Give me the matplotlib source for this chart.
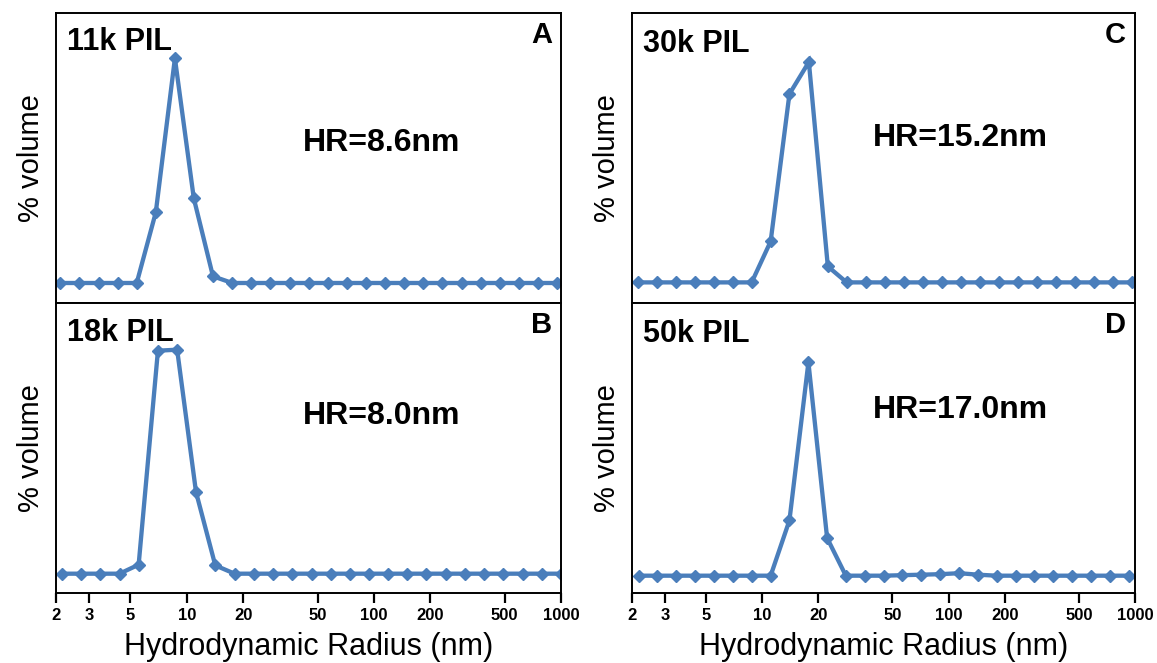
import matplotlib
matplotlib.use("Agg")
import matplotlib.pyplot as plt
from matplotlib.ticker import FixedLocator, FixedFormatter, NullLocator

plt.rcParams["font.family"] = ["Liberation Sans", "DejaVu Sans"]

# Size bins (nm) and volume distributions for each polymer
radius_a = [2.11, 2.67, 3.38, 4.27, 5.40, 6.83, 8.64, 10.9, 13.8, 17.5, 22.1, 28.0, 35.4,
            44.8, 56.7, 71.7, 90.7, 115, 145, 183, 232, 294, 372, 470, 595, 753, 952]
volume_a = [0, 0, 0, 0, 0, 7.07, 22.47, 8.47, 0.67, 0, 0, 0, 0,
            0, 0, 0, 0, 0, 0, 0, 0, 0, 0, 0, 0, 0, 0]

radius_b = [2.15, 2.72, 3.45, 4.37, 5.53, 7.01, 8.88, 11.2, 14.2, 18.0, 22.8, 28.9, 36.6,
            46.4, 58.7, 74.4, 94.2, 119, 151, 191, 242, 307, 389, 492, 624, 790, 1000]
volume_b = [0, 0, 0, 0, 0.9, 22.3, 22.4, 8.17, 0.83, 0, 0, 0, 0,
            0, 0, 0, 0, 0, 0, 0, 0, 0, 0, 0, 0, 0, 0]

radius_c = [2.15, 2.72, 3.44, 4.35, 5.49, 6.95, 8.78, 11.1, 14.0, 17.8, 22.5, 28.4, 35.9,
            45.4, 57.4, 72.6, 91.8, 116, 147, 186, 235, 297, 375, 475, 600, 759, 960]
volume_c = [0, 0, 0, 0, 0, 0, 0, 4.1, 18.84, 22.04, 1.6, 0, 0,
            0, 0, 0, 0, 0, 0, 0, 0, 0, 0, 0, 0, 0, 0]

radius_d = [2.17, 2.74, 3.46, 4.37, 5.51, 6.96, 8.78, 11.1, 14.0, 17.7, 22.3, 28.1, 35.5,
            44.8, 56.6, 71.4, 90.2, 114, 144, 181, 229, 289, 365, 461, 581, 734, 931]
volume_d = [0, 0, 0, 0, 0, 0, 0, 0, 5.53, 21.33, 3.77, 0, 0,
            0, 0.05, 0.1, 0.15, 0.25, 0.1, 0, 0, 0, 0, 0, 0, 0, 0]

sample_names = ["11k PIL", "18k PIL", "30k PIL", "50k PIL"]
panel_letters = ["A", "B", "C", "D"]
hr_labels = ["HR=8.6nm", "HR=8.0nm", "HR=15.2nm", "HR=17.0nm"]

tick_values = [2, 3, 5, 10, 20, 50, 100, 200, 500, 1000]
tick_labels = ["2", "3", "5", "10", "20", "50", "100", "200", "500", "1000"]

LINE_COLOR = "#4A7EBB"

fig = plt.figure(figsize=(11.57, 6.63), dpi=100)

# axes rectangles: [left, bottom, width, height]
rects = [
    [0.0484, 0.5430, 0.4365, 0.4374],
    [0.0484, 0.1056, 0.4365, 0.4374],
    [0.5462, 0.5430, 0.4347, 0.4374],
    [0.5462, 0.1056, 0.4347, 0.4374],
]
ylims = [(-2.0, 27.0), (-1.93, 27.07), (-2.06, 26.94), (-1.73, 27.27)]
name_y = [0.872, 0.870, 0.866, 0.866]
letter_y = [0.897, 0.897, 0.895, 0.895]
hr_pos = [(0.489, 0.525), (0.489, 0.583), (0.479, 0.540), (0.479, 0.603)]

series = [(radius_a, volume_a), (radius_b, volume_b),
          (radius_c, volume_c), (radius_d, volume_d)]

for i, (rx, vol) in enumerate(series):
    ax = fig.add_axes(rects[i])
    ax.plot(rx, vol, color=LINE_COLOR, lw=3.1, marker="D", ms=6.5,
            mfc=LINE_COLOR, mec=LINE_COLOR, solid_joinstyle="miter")
    ax.set_xscale("log")
    ax.set_xlim(2, 1000)
    ax.set_ylim(*ylims[i])
    ax.yaxis.set_major_locator(NullLocator())
    ax.yaxis.set_minor_locator(NullLocator())
    ax.xaxis.set_minor_locator(NullLocator())
    for sp in ax.spines.values():
        sp.set_linewidth(1.4)
        sp.set_color("black")
    ax.set_ylabel("% volume", fontsize=21, labelpad=8)

    if i in (1, 3):
        ax.xaxis.set_major_locator(FixedLocator(tick_values))
        ax.xaxis.set_major_formatter(FixedFormatter(tick_labels))
        ax.tick_params(axis="x", direction="out", length=7, width=1.6,
                       labelsize=12, pad=4)
        for lab in ax.get_xticklabels():
            lab.set_fontweight("bold")
        ax.set_xlabel("Hydrodynamic Radius (nm)", fontsize=22, labelpad=6)
    else:
        ax.xaxis.set_major_locator(NullLocator())

    ax.text(0.022, name_y[i], sample_names[i], transform=ax.transAxes,
            fontsize=22, fontweight="bold", ha="left", va="baseline")
    ax.text(0.982, letter_y[i], panel_letters[i], transform=ax.transAxes,
            fontsize=21, fontweight="bold", ha="right", va="baseline")
    ax.text(hr_pos[i][0], hr_pos[i][1], hr_labels[i], transform=ax.transAxes,
            fontsize=23, fontweight="bold", ha="left", va="baseline")

fig.savefig("out.png", dpi=100)
